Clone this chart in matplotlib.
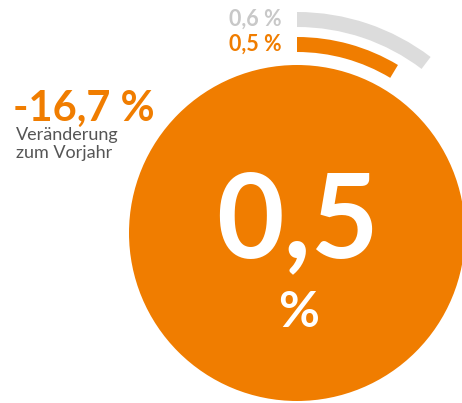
import matplotlib.pyplot as plt
from matplotlib.patches import Circle, Wedge

# Werte
aktuell = 0.5
vorjahr = 0.6
veraenderung = -16.7
label_aktuell = "0,5"
label_vorjahr = "0,6 %"
label_aktuell_pct = "0,5 %"
label_veraenderung = "-16,7 %"
untertitel = ["Veränderung", "zum Vorjahr"]

orange = "#F07D00"
grau_bogen = "#DCDCDC"
grau_text = "#C8C8C8"
grau_dunkel = "#555555"

plt.rcParams['font.family'] = ['Lato', 'DejaVu Sans']

fig = plt.figure(figsize=(4.62, 4.03), dpi=100)
ax = fig.add_axes([0, 0, 1, 1])
ax.set_xlim(0, 462)
ax.set_ylim(403, 0)
ax.set_aspect('equal')
ax.axis('off')

cx, cy = 297, 233
grad_pro_einheit = 62  # Skala der Bögen

# großer Kreis
ax.add_patch(Circle((cx, cy), 168, color=orange, lw=0))

# Bögen oben (im Uhrzeigersinn ab 12 Uhr)
ax.add_patch(Wedge((cx, cy), 221, -90, -90 + vorjahr * grad_pro_einheit,
                   width=15, color=grau_bogen, lw=0))
ax.add_patch(Wedge((cx, cy), 196, -90, -90 + aktuell * grad_pro_einheit,
                   width=15, color=orange, lw=0))

# Beschriftungen der Bögen
ax.text(282, 26, label_vorjahr, ha='right', va='baseline', fontsize=15.5,
        fontweight='bold', color=grau_text)
ax.text(282, 51, label_aktuell_pct, ha='right', va='baseline', fontsize=15.5,
        fontweight='bold', color=orange)

# Veränderung
ax.text(13, 121, label_veraenderung, ha='left', va='baseline', fontsize=30,
        fontweight='bold', color=orange)
for i, zeile in enumerate(untertitel):
    ax.text(16, 140 + i * 18, zeile, ha='left', va='baseline', fontsize=13,
            color=grau_dunkel)

# Wert im Kreis
ax.text(297, 257, label_aktuell, ha='center', va='baseline', fontsize=84,
        fontweight='bold', color='white')
ax.text(299, 327, "%", ha='center', va='baseline', fontsize=36,
        fontweight='bold', color='white')

fig.savefig("out.png", dpi=100)
